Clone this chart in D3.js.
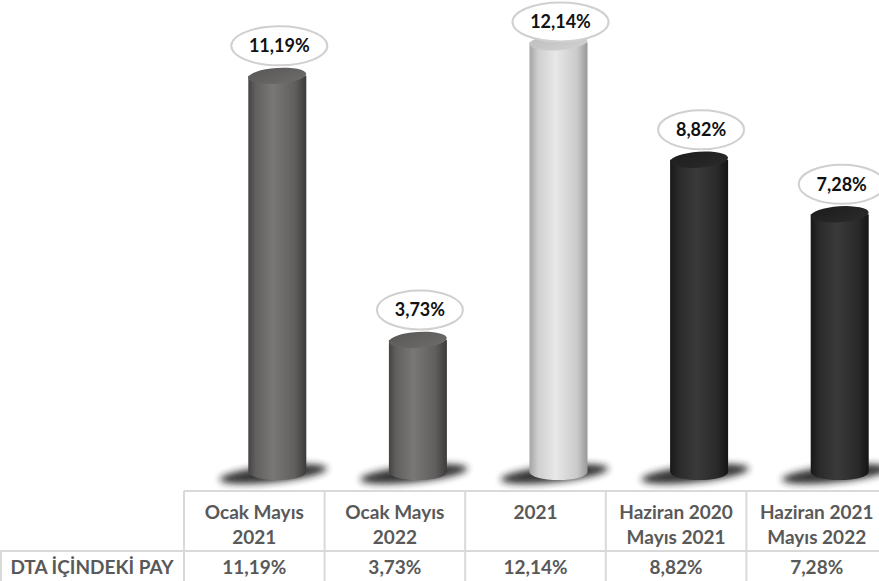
<!DOCTYPE html>
<html><head><meta charset="utf-8">
<script src="https://cdn.jsdelivr.net/npm/d3@7"></script>
<style>html,body{margin:0;padding:0;background:#fff;overflow:hidden}</style>
</head><body><svg id="c" width="879" height="581"></svg>
<script>
const categories = [["Ocak Mayıs","2021"],["Ocak Mayıs","2022"],["2021"],["Haziran 2020","Mayıs 2021"],["Haziran 2021","Mayıs 2022"]];
const values = [11.19, 3.73, 12.14, 8.82, 7.28];
const valueLabels = ["11,19%","3,73%","12,14%","8,82%","7,28%"];
const rowTitle = "DTA İÇİNDEKİ PAY";
const colorGroup = ["mid","mid","light","dark","dark"];

const svg = d3.select("#c");
const W = 879, H = 581;
const x = d3.scaleBand().domain(d3.range(values.length)).range([184, 887]).padding(0);
const y = d3.scaleLinear().domain([0, 13]).range([472, 472 - 13*35.4]);
const barW = 58, ry = 8, barShift = 23;

const defs = svg.append("defs");
const grads = {
  mid:   {body:[["0%","#454242"],["12%","#615e5e"],["42%","#7a7777"],["80%","#615e5e"],["100%","#3c3a3a"]], top:["#595656","#6f6c6c"]},
  light: {body:[["0%","#a4a4a4"],["15%","#cfcfcf"],["45%","#e8e8e8"],["82%","#cacaca"],["100%","#989898"]], top:["#bdbdbd","#d2d2d2"]},
  dark:  {body:[["0%","#181818"],["15%","#2b2a2a"],["45%","#3b3a3a"],["82%","#2a2929"],["100%","#141414"]], top:["#1c1c1c","#2c2b2b"]}
};
Object.entries(grads).forEach(([k,g])=>{
  const lg = defs.append("linearGradient").attr("id","b_"+k).attr("x1","0").attr("x2","1").attr("y1","0").attr("y2","0");
  g.body.forEach(s=>lg.append("stop").attr("offset",s[0]).attr("stop-color",s[1]));
  const tg = defs.append("linearGradient").attr("id","t_"+k).attr("x1","0").attr("x2","1").attr("y1","0").attr("y2","1");
  tg.append("stop").attr("offset","0%").attr("stop-color",g.top[0]);
  tg.append("stop").attr("offset","100%").attr("stop-color",g.top[1]);
});
const f = defs.append("filter").attr("id","blur").attr("x","-50%").attr("y","-100%").attr("width","200%").attr("height","300%");
f.append("feGaussianBlur").attr("stdDeviation","3.5");

// shadows
const g = svg.append("g");
values.forEach((v,i)=>{
  const cx = x(i) + x.bandwidth()/2 + barShift;
  g.append("ellipse").attr("cx",cx-4).attr("cy",y(0)+2).attr("rx",54).attr("ry",8)
   .attr("transform",`rotate(-6 ${cx-4} ${y(0)+2})`)
   .attr("fill","#1a1a1a").attr("opacity",0.9).attr("filter","url(#blur)");
});
// cylinders
values.forEach((v,i)=>{
  const cx = x(i) + x.bandwidth()/2 + barShift;
  const x0 = cx - barW/2, x1 = cx + barW/2;
  const yt = y(v), yb = y(0);
  const k = colorGroup[i];
  g.append("path")
   .attr("d",`M${x0},${yt} L${x0},${yb} A${barW/2},${ry} 0 0 0 ${x1},${yb} L${x1},${yt} Z`)
   .attr("fill",`url(#b_${k})`);
  g.append("ellipse").attr("cx",cx).attr("cy",yt).attr("rx",barW/2).attr("ry",ry)
   .attr("transform",`rotate(-4 ${cx} ${yt})`)
   .attr("fill",`url(#t_${k})`);
});
// value labels (kept inside the plot area like the original)
values.forEach((v,i)=>{
  const cx = x(i) + x.bandwidth()/2 + barShift + 2;
  const cy = Math.max(22, y(v) - 30);
  const rx = valueLabels[i].length >= 6 ? 48 : 43;
  g.append("ellipse").attr("cx",cx).attr("cy",cy).attr("rx",rx).attr("ry",19.5)
   .attr("fill","#fff").attr("stroke","#d0d0d0").attr("stroke-width",2);
  g.append("text").attr("x",cx).attr("y",cy).attr("dy","0.35em").attr("text-anchor","middle")
   .attr("font-family","Lato, 'Open Sans', sans-serif").attr("font-weight","bold").attr("font-size",18)
   .attr("fill","#111").text(valueLabels[i]);
});

// table
const t = svg.append("g");
const lineC = "#d9d9d9";
const yTop = 491, yMid = 551, yBot = 581;
t.append("line").attr("x1",184).attr("x2",W).attr("y1",yTop).attr("y2",yTop).attr("stroke",lineC).attr("stroke-width",2);
t.append("line").attr("x1",0).attr("x2",W).attr("y1",yMid).attr("y2",yMid).attr("stroke",lineC).attr("stroke-width",2);
t.append("line").attr("x1",1).attr("x2",1).attr("y1",yMid).attr("y2",yBot).attr("stroke",lineC).attr("stroke-width",2);
values.forEach((v,i)=>{
  t.append("line").attr("x1",x(i)).attr("x2",x(i)).attr("y1",yTop).attr("y2",yBot).attr("stroke",lineC).attr("stroke-width",2);
});
const tf = "Lato, 'Open Sans', sans-serif";
categories.forEach((c,i)=>{
  const cx = x(i) + x.bandwidth()/2;
  c.forEach((ln,j)=>{
    t.append("text").attr("x",cx).attr("y",512 + j*25).attr("dy","0.35em").attr("text-anchor","middle")
     .attr("font-family",tf).attr("font-weight","bold").attr("font-size",19).attr("fill","#595959").text(ln);
  });
  t.append("text").attr("x",cx).attr("y",567).attr("dy","0.35em").attr("text-anchor","middle")
   .attr("font-family",tf).attr("font-weight","bold").attr("font-size",19).attr("fill","#595959").text(valueLabels[i]);
});
t.append("text").attr("x",92).attr("y",567).attr("dy","0.35em").attr("text-anchor","middle")
 .attr("font-family",tf).attr("font-weight","bold").attr("font-size",19).attr("fill","#595959").text(rowTitle);
</script></body></html>
